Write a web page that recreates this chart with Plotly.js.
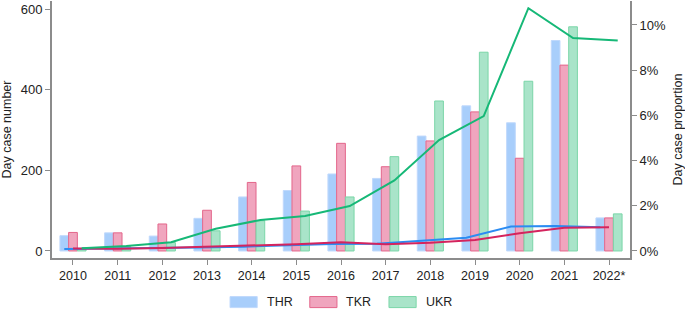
<!DOCTYPE html>
<html>
<head>
<meta charset="utf-8">
<script src="https://cdn.plot.ly/plotly-3.0.1.min.js"></script>
<style>html,body{margin:0;padding:0;background:#fff;}#chart{width:685px;height:310px;}</style>
</head>
<body>
<div id="chart"></div>
<script>
const years = ['2010','2011','2012','2013','2014','2015','2016','2017','2018','2019','2020','2021','2022*'];
const thrCount = [38, 45, 37, 81, 134, 150, 191, 180, 285, 360, 318, 522, 82];
const tkrCount = [46, 45, 67, 101, 170, 211, 267, 209, 273, 345, 230, 461, 82];
const ukrCount = [5, 11, 21, 50, 75, 99, 134, 234, 372, 493, 421, 556, 92];
const thrProp = [0.09, 0.10, 0.12, 0.15, 0.19, 0.25, 0.31, 0.32, 0.44, 0.59, 1.08, 1.11, 1.05];
const tkrProp = [0.11, 0.10, 0.13, 0.19, 0.23, 0.30, 0.39, 0.30, 0.37, 0.49, 0.78, 1.03, 1.05];
const ukrProp = [0.12, 0.22, 0.39, 0.98, 1.37, 1.55, 1.99, 3.12, 4.91, 5.97, 10.74, 9.42, 9.31];
const seriesNames = ['THR', 'TKR', 'UKR'];
const propTicks = [0, 2, 4, 6, 8, 10];
const countTicks = [0, 200, 400, 600];

const idx = years.map((_, i) => i);
const barW = 0.195;
const shift = (o) => idx.map(i => i + o);

const FONT = 'Liberation Sans, Arial, sans-serif';
const styles = [
  {fill: 'rgba(163,203,251,0.95)', line: 'rgba(192,217,252,1)', ln: '#2b8cf2'},
  {fill: 'rgba(239,160,186,0.95)', line: '#e3668b', ln: '#d4245e'},
  {fill: 'rgba(164,227,198,0.95)', line: '#7bd6a8', ln: '#16b877'}
];
const counts = [thrCount, tkrCount, ukrCount];
const props = [thrProp, tkrProp, ukrProp];

const traces = [];
counts.forEach((c, k) => traces.push({
  type: 'bar', name: seriesNames[k], x: idx, y: c, width: barW, offset: (k - 1.5) * barW,
  marker: {color: styles[k].fill, line: {color: styles[k].line, width: 1}}, showlegend: false
}));
props.forEach((p, k) => traces.push({
  type: 'scatter', mode: 'lines', name: seriesNames[k] + ' %', x: shift((k - 1) * barW), y: p, yaxis: 'y2',
  line: {color: styles[k].ln, width: 2}, showlegend: false
}));

const axisCommon = {
  showgrid: false, zeroline: false, showline: true, linecolor: '#8c8c8c', linewidth: 2,
  ticks: 'outside', ticklen: 5, tickwidth: 1, tickcolor: '#8c8c8c',
  tickfont: {family: FONT, size: 13, color: '#222'}
};

// manual legend (wide swatches like the reference)
const legX = [0.308, 0.446, 0.583];
const shapes = [], annotations = [];
seriesNames.forEach((n, k) => {
  shapes.push({type: 'rect', xref: 'paper', yref: 'paper', x0: legX[k], x1: legX[k] + 0.047,
    y0: -0.150, y1: -0.193, fillcolor: styles[k].fill, line: {color: styles[k].line, width: 1}});
  annotations.push({xref: 'paper', yref: 'paper', x: legX[k] + 0.060, y: -0.171, xanchor: 'left',
    yanchor: 'middle', text: n, showarrow: false, font: {family: FONT, size: 12.5, color: '#222'}});
});

const layout = {
  width: 685, height: 310,
  margin: {l: 52, r: 55, t: 1, b: 52},
  paper_bgcolor: '#fff', plot_bgcolor: '#fff',
  font: {family: FONT, size: 12, color: '#222'},
  barmode: 'overlay',
  showlegend: false,
  shapes: shapes,
  annotations: annotations,
  xaxis: Object.assign({}, axisCommon, {
    range: [-0.47, 12.47], tickmode: 'array', tickvals: idx, ticktext: years,
    tickfont: {family: FONT, size: 12.5, color: '#222'}
  }),
  yaxis: Object.assign({}, axisCommon, {
    range: [-17.4, 620], tickmode: 'array', tickvals: countTicks,
    title: {text: 'Day case number', font: {family: FONT, size: 12.5, color: '#222'}, standoff: 6}
  }),
  yaxis2: Object.assign({}, axisCommon, {
    overlaying: 'y', side: 'right', range: [-0.31, 11.06],
    tickmode: 'array', tickvals: propTicks, ticktext: propTicks.map(v => v + '%'),
    title: {text: 'Day case proportion', font: {family: FONT, size: 12.5, color: '#222'}, standoff: 12}
  })
};

Plotly.newPlot('chart', traces, layout, {displayModeBar: false, staticPlot: true});
</script>
</body>
</html>
